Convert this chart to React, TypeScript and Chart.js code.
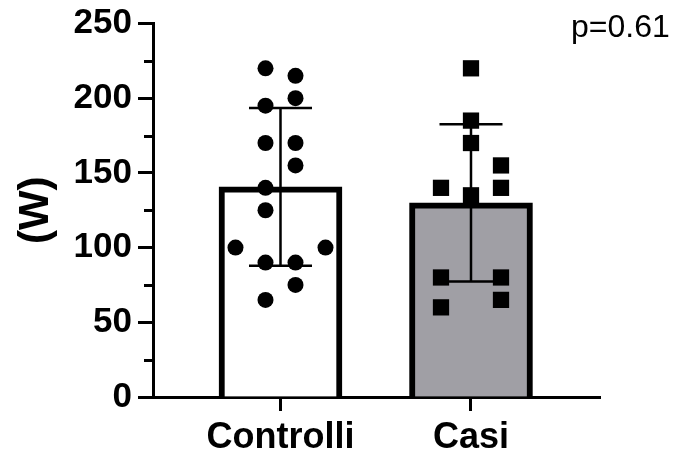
import React, { useEffect, useRef } from "react";
import { Chart, registerables } from "chart.js";

Chart.register(...registerables);

// Groups and individual measurements (W)
const groups = ["Controlli", "Casi"];
const controlliValues = [220, 215, 200, 195, 170, 170, 155, 140, 125, 100, 100, 90, 90, 75, 65];
const casiValues = [220, 185, 170, 155, 140, 140, 135, 80, 80, 65, 60];

// Horizontal spread column of each point inside its group
const controlliColumns = [-0.5, 0.5, 0.5, -0.5, -0.5, 0.5, 0.5, -0.5, -0.5, -1.5, 1.5, -0.5, 0.5, 0.5, -0.5];
const casiColumns = [0, 0, 0, 1, -1, 1, 0, -1, 1, 1, -1];

const yMajorTicks = [0, 50, 100, 150, 200, 250];
const yMinorTicks = [25, 75, 125, 175, 225];
const yTitle = "(W)";
const pValueText = "p=0.61";

const FONT = "'Liberation Sans', Arial, Helvetica, sans-serif";
const COLUMN_STEP = 0.1575; // x-units between spread columns
const BAR_FILLS = ["#ffffff", "#a09fa5"];

function mean(v: number[]): number {
  return v.reduce((a, b) => a + b, 0) / v.length;
}
function sd(v: number[]): number {
  const m = mean(v);
  return Math.sqrt(v.reduce((a, b) => a + (b - m) * (b - m), 0) / (v.length - 1));
}

const groupValues = [controlliValues, casiValues];
const means = groupValues.map(mean);
const sds = groupValues.map(sd);

// Mean ± SD whiskers with caps, plus minor y ticks and the p-value note
const overlayPlugin = {
  id: "overlay",
  afterDatasetsDraw(chart: any) {
    const { ctx, scales } = chart;
    const xs = scales.x;
    const ys = scales.y;
    ctx.save();
    ctx.strokeStyle = "#000";
    ctx.lineWidth = 2.5;
    ctx.lineCap = "butt";
    means.forEach((m, i) => {
      const x = xs.getPixelForValue(i);
      const yTop = ys.getPixelForValue(m + sds[i]);
      const yBot = ys.getPixelForValue(m - sds[i]);
      const half = 31.5;
      ctx.beginPath();
      ctx.moveTo(x, yTop);
      ctx.lineTo(x, yBot);
      ctx.moveTo(x - half, yTop);
      ctx.lineTo(x + half, yTop);
      ctx.moveTo(x - half, yBot);
      ctx.lineTo(x + half, yBot);
      ctx.stroke();
    });
    ctx.restore();
  },
  afterDraw(chart: any) {
    const { ctx, scales, chartArea } = chart;
    const ys = scales.y;
    ctx.save();
    ctx.strokeStyle = "#000";
    ctx.lineWidth = 3;
    yMinorTicks.forEach((v) => {
      const y = Math.round(ys.getPixelForValue(v)) + 0.5;
      ctx.beginPath();
      ctx.moveTo(chartArea.left - 9, y);
      ctx.lineTo(chartArea.left, y);
      ctx.stroke();
    });
    ctx.fillStyle = "#000";
    ctx.font = `32px ${FONT}`;
    ctx.textAlign = "left";
    ctx.textBaseline = "alphabetic";
    ctx.fillText(pValueText, 571, 37);
    ctx.restore();
  },
};

export default function App() {
  const canvasRef = useRef<HTMLCanvasElement | null>(null);

  useEffect(() => {
    if (!canvasRef.current) return;
    const chart = new Chart(canvasRef.current, {
      type: "bar",
      data: {
        datasets: [
          {
            type: "bar",
            data: means.map((m, i) => ({ x: i, y: m })),
            backgroundColor: BAR_FILLS,
            borderColor: "#000",
            borderWidth: 6,
            barThickness: 123,
            order: 3,
          } as any,
          {
            type: "scatter",
            data: controlliValues.map((v, j) => ({ x: 0 + controlliColumns[j] * COLUMN_STEP, y: v })),
            pointStyle: "circle",
            pointRadius: 8,
            pointBackgroundColor: "#000",
            pointBorderWidth: 0,
            clip: false,
            order: 1,
          } as any,
          {
            type: "scatter",
            data: casiValues.map((v, j) => ({ x: 1 + casiColumns[j] * COLUMN_STEP, y: v })),
            pointStyle: "rect",
            pointRadius: 11.5,
            pointBackgroundColor: "#000",
            pointBorderWidth: 0,
            clip: false,
            order: 1,
          } as any,
        ],
      },
      options: {
        animation: false,
        responsive: false,
        maintainAspectRatio: false,
        events: [],
        layout: { padding: { top: 20, right: 83, bottom: 0, left: 0 } },
        plugins: {
          legend: { display: false },
          tooltip: { enabled: false },
        },
        scales: {
          x: {
            type: "linear",
            min: -0.6693,
            max: 1.6772,
            offset: false,
            afterBuildTicks: (s: any) => {
              s.ticks = groups.map((_, i) => ({ value: i }));
            },
            afterFit: (s: any) => {
              s.height = 60;
            },
            grid: {
              display: true,
              offset: false,
              drawOnChartArea: false,
              drawTicks: true,
              tickLength: 14,
              tickWidth: 3,
              tickColor: "#000",
            },
            border: { display: true, color: "#000", width: 3 },
            ticks: {
              color: "#000",
              padding: 5,
              maxRotation: 0,
              autoSkip: false,
              font: { family: FONT, size: 36, weight: "bold", lineHeight: 1.2 },
              callback: (v: any) => groups[v as number] ?? "",
            },
          },
          y: {
            type: "linear",
            min: 0,
            max: 250,
            afterBuildTicks: (s: any) => {
              s.ticks = yMajorTicks.map((v) => ({ value: v }));
            },
            afterFit: (s: any) => {
              s.width = 153;
            },
            grid: {
              display: true,
              drawOnChartArea: false,
              drawTicks: true,
              tickLength: 15,
              tickWidth: 3,
              tickColor: "#000",
            },
            border: { display: true, color: "#000", width: 3 },
            ticks: {
              color: "#000",
              padding: 6,
              font: { family: FONT, size: 35, weight: "bold", lineHeight: 1.0 },
            },
            title: {
              display: true,
              text: yTitle,
              color: "#000",
              font: { family: FONT, size: 42, weight: "bold", lineHeight: 1.2 },
              padding: { top: 11, bottom: 0 },
            },
          },
        },
      },
      plugins: [overlayPlugin],
    });
    return () => chart.destroy();
  }, []);

  return (
    <div style={{ position: "absolute", left: 0, top: 0, width: 683, height: 457, background: "#fff" }}>
      <canvas ref={canvasRef} width={683} height={457} style={{ display: "block" }} />
    </div>
  );
}
